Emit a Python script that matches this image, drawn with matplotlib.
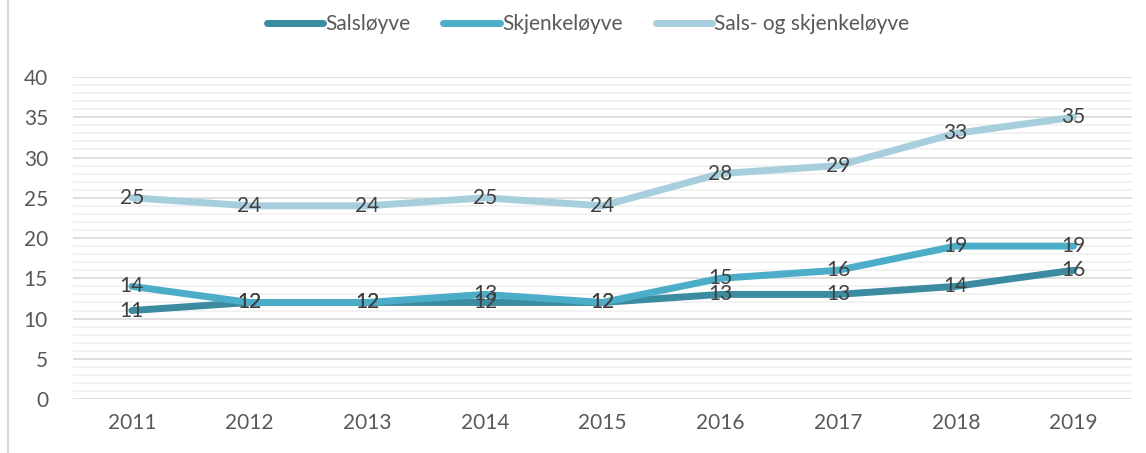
import matplotlib
matplotlib.use('Agg')
import matplotlib.pyplot as plt
from matplotlib.lines import Line2D

# Data
years = ['2011', '2012', '2013', '2014', '2015', '2016', '2017', '2018', '2019']
salslovye = [11, 12, 12, 12, 12, 13, 13, 14, 16]
skjenkelovye = [14, 12, 12, 13, 12, 15, 16, 19, 19]
begge = [25, 24, 24, 25, 24, 28, 29, 33, 35]

names = ['Salsløyve', 'Skjenkeløyve', 'Sals- og skjenkeløyve']
colors = ['#3B8BA1', '#4BADC7', '#A6CEDC']

plt.rcParams['font.family'] = ['Lato', 'DejaVu Sans']

fig = plt.figure(figsize=(11.46, 4.53), dpi=100)
ax = fig.add_axes([0.0637, 0.119, 0.9243, 0.711])

x = list(range(len(years)))
for vals, col, name in zip([salslovye, skjenkelovye, begge], colors, names):
    ax.plot(x, vals, color=col, lw=5, solid_capstyle='round', label=name, zorder=3)

# Data labels
for vals in [salslovye, skjenkelovye, begge]:
    for xi, v in zip(x, vals):
        ax.text(xi, v, str(v), ha='center', va='center', fontsize=15,
                color='#404040', zorder=4)

ax.set_xlim(-0.5, len(years) - 0.5)
ax.set_ylim(0, 40)
ax.set_yticks(range(0, 41, 5))
ax.set_yticks(range(0, 41, 1), minor=True)
ax.set_xticks(x)
ax.set_xticklabels(years)
ax.grid(axis='y', which='major', color='#D9D9D9', lw=1.2, zorder=0)
ax.grid(axis='y', which='minor', color='#F0F0F0', lw=1.2, zorder=0)
ax.tick_params(axis='both', which='both', length=0, labelsize=15,
               labelcolor='#595959')
ax.tick_params(axis='x', pad=10)
ax.tick_params(axis='y', pad=18)
for s in ax.spines.values():
    s.set_visible(False)

handles = [Line2D([0], [0], color=c, lw=5, solid_capstyle='round') for c in colors]
fig.legend(handles, names, loc='center', bbox_to_anchor=(0.513, 0.946), ncol=3,
           frameon=False, fontsize=15, handlelength=2.7, handletextpad=0.1,
           columnspacing=1.6, labelcolor='#595959')

# left frame line
fig.add_artist(Line2D([0.007, 0.007], [0, 1], color='#D9D9D9', lw=1.5,
                      transform=fig.transFigure))

fig.savefig('out.png', dpi=100)
